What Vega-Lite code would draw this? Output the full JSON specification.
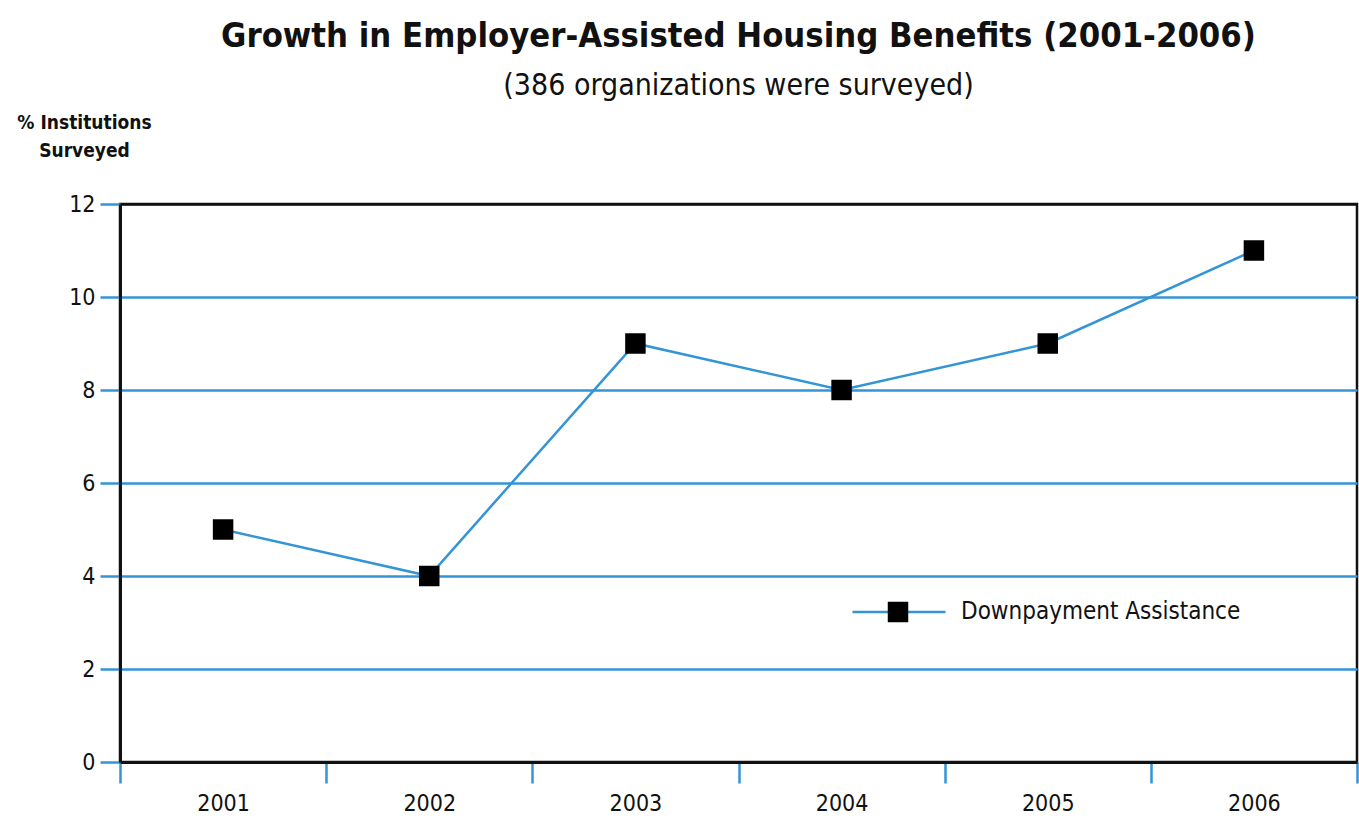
{
  "$schema": "https://vega.github.io/schema/vega-lite/v6.json",
  "width": 1237,
  "height": 558,
  "autosize": {"type": "none"},
  "padding": {"left": 120, "top": 204, "right": 2, "bottom": 57},
  "background": "white",
  "title": {
    "text": "Growth in Employer-Assisted Housing Benefits (2001-2006)",
    "subtitle": "(386 organizations were surveyed)",
    "anchor": "middle",
    "offset": 12,
    "font": "Liberation Sans Narrow, DejaVu Sans Condensed, Roboto Condensed, sans-serif",
    "fontSize": 34.3,
    "fontWeight": "bold",
    "color": "#111111",
    "subtitleFont": "Liberation Sans Narrow, DejaVu Sans Condensed, Roboto Condensed, sans-serif",
    "subtitleFontSize": 30,
    "subtitleColor": "#111111",
    "subtitlePadding": 17
  },
  "data": {
    "values": [
      {"year": "2001", "value": 5},
      {"year": "2002", "value": 4},
      {"year": "2003", "value": 9},
      {"year": "2004", "value": 8},
      {"year": "2005", "value": 9},
      {"year": "2006", "value": 11}
    ]
  },
  "encoding": {
    "x": {
      "field": "year",
      "type": "ordinal",
      "scale": {"type": "band", "paddingInner": 0, "paddingOuter": 0},
      "axis": {
        "title": null,
        "labelAngle": 0,
        "tickBand": "extent",
        "domainColor": "#111111",
        "domainWidth": 3,
        "tickColor": "#3394d6",
        "tickWidth": 2.5,
        "tickSize": 21,
        "labelFont": "Liberation Sans Narrow, DejaVu Sans Condensed, Roboto Condensed, sans-serif",
        "labelFontSize": 23,
        "labelColor": "#111111",
        "labelPadding": 9,
        "grid": false
      }
    },
    "y": {
      "field": "value",
      "type": "quantitative",
      "scale": {"domain": [0, 12], "nice": false},
      "axis": {
        "values": [0, 2, 4, 6, 8, 10, 12],
        "title": ["% Institutions", "Surveyed"],
        "titleAngle": 0,
        "titleAlign": "center",
        "titleBaseline": "top",
        "titleX": -36,
        "titleY": -91,
        "titleFont": "Liberation Sans Narrow, DejaVu Sans Condensed, Roboto Condensed, sans-serif",
        "titleFontSize": 19,
        "titleFontWeight": "bold",
        "titleColor": "#111111",
        "titleLineHeight": 28,
        "domainColor": "#111111",
        "domainWidth": 3,
        "tickColor": "#3394d6",
        "tickWidth": 2.5,
        "tickSize": 20,
        "labelFont": "Liberation Sans Narrow, DejaVu Sans Condensed, Roboto Condensed, sans-serif",
        "labelFontSize": 23,
        "labelColor": "#111111",
        "labelPadding": 5,
        "grid": true,
        "gridColor": {"condition": {"test": "datum.value === 12", "value": "#111111"}, "value": "#3394d6"},
        "gridWidth": 2.5,
        "gridOpacity": 1
      }
    }
  },
  "layer": [
    {
      "mark": {"type": "line", "strokeWidth": 2.5},
      "encoding": {
        "stroke": {
          "datum": "Downpayment Assistance",
          "scale": {"range": ["#3394d6"]},
          "legend": {
            "title": null,
            "orient": "none",
            "legendX": 731,
            "legendY": 360,
            "padding": 0,
            "symbolType": "M-1,0H1",
            "symbolSize": 8649,
            "symbolStrokeWidth": 2.5,
            "symbolStrokeColor": "#3394d6",
            "labelOffset": 14,
            "labelLimit": 500,
            "labelFont": "Liberation Sans Narrow, DejaVu Sans Condensed, Roboto Condensed, sans-serif",
            "labelFontSize": 24,
            "labelColor": "#111111"
          }
        }
      }
    },
    {
      "mark": {"type": "point", "filled": true, "size": 420, "color": "#000000", "opacity": 1},
      "encoding": {
        "shape": {
          "datum": "sq",
          "scale": {"range": ["square"]},
          "legend": {
            "title": null,
            "orient": "none",
            "legendX": 766,
            "legendY": 396,
            "padding": 0,
            "symbolSize": 420,
            "symbolFillColor": "#000000",
            "symbolStrokeColor": "#000000",
            "symbolStrokeWidth": 0,
            "symbolOpacity": 1,
            "labelOpacity": 0,
            "labelFontSize": 24
          }
        }
      }
    }
  ],
  "config": {
    "view": {"stroke": "#111111", "strokeWidth": 2.5}
  }
}
